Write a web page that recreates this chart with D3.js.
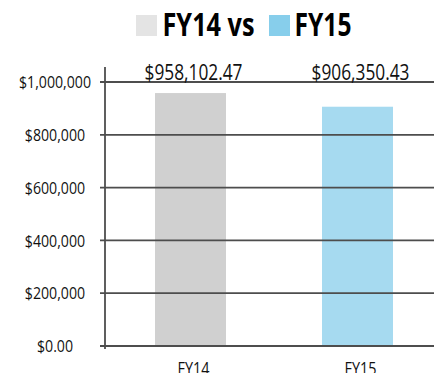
<!DOCTYPE html>
<html>
<head>
<meta charset="utf-8">
<script src="https://cdn.jsdelivr.net/npm/d3@7"></script>
<style>
  html, body { margin: 0; padding: 0; background: #fff; }
  svg { display: block; }
  text { font-family: "Open Sans", "Noto Sans", "DejaVu Sans Condensed", sans-serif; }
</style>
</head>
<body>
<svg id="chart" width="434" height="373"></svg>
<script>
// Fiscal-year totals
const categories = ["FY14", "FY15"];
const values = [958102.47, 906350.43];
const valueLabels = ["$958,102.47", "$906,350.43"];
const tickValues = [0, 200000, 400000, 600000, 800000, 1000000];
const tickLabels = ["$0.00", "$200,000", "$400,000", "$600,000", "$800,000", "$1,000,000"];
const legendLabels = ["FY14 vs", "FY15"];
const barColors = ["#d0d0d0", "#a6daf0"];
const legendColors = ["#e4e4e4", "#87ceeb"];

const svg = d3.select("#chart");

const y = d3.scaleLinear().domain([0, 1000000]).range([346, 82]);
const x = d3.scaleBand().domain(categories).range([107, 441]).paddingInner(0.575).paddingOuter(0.2875);

// Squeeze a text selection horizontally by a fixed ratio (condensed look)
function condense(sel, ratio) {
  sel.each(function () {
    const w = this.getComputedTextLength();
    d3.select(this).attr("textLength", w * ratio).attr("lengthAdjust", "spacingAndGlyphs");
  });
}

function gridLines(g) {
  g.selectAll("line")
    .data(tickValues)
    .join("line")
    .attr("x1", 100).attr("x2", 434)
    .attr("y1", d => y(d)).attr("y2", d => y(d))
    .attr("stroke", "#4d4d4d").attr("stroke-width", 1.8);
}

// Bars
svg.append("g").selectAll("rect")
  .data(values)
  .join("rect")
  .attr("x", (d, i) => x(categories[i]))
  .attr("width", x.bandwidth())
  .attr("y", d => y(d))
  .attr("height", d => y(0) - y(d))
  .attr("fill", (d, i) => barColors[i]);

// Grid lines drawn over the bars
svg.append("g").call(gridLines);

// Y axis line
svg.append("line")
  .attr("x1", 105).attr("x2", 105)
  .attr("y1", 67).attr("y2", 349)
  .attr("stroke", "#4d4d4d").attr("stroke-width", 1.8);

// Y tick labels
const yLabels = svg.append("g").selectAll("text")
  .data(tickValues)
  .join("text")
  .attr("x", 55)
  .attr("y", d => y(d))
  .attr("dy", "0.36em")
  .attr("text-anchor", "middle")
  .attr("font-size", 17)
  .attr("fill", "#111")
  .text((d, i) => tickLabels[i]);
{
  const ref = yLabels.filter((d, i) => i === tickLabels.length - 1).node().getComputedTextLength();
  condense(yLabels, 72 / ref);
}

// X category labels (partly below the bottom edge)
const xLabels = svg.append("g").selectAll("text")
  .data(categories)
  .join("text")
  .attr("x", d => x(d) + x.bandwidth() / 2 + 3)
  .attr("y", 375)
  .attr("text-anchor", "middle")
  .attr("font-size", 18)
  .attr("fill", "#111")
  .text(d => d);
{
  const ref = xLabels.node().getComputedTextLength();
  condense(xLabels, 32 / ref);
}

// Value labels
const vLabels = svg.append("g").selectAll("text")
  .data(valueLabels)
  .join("text")
  .attr("x", (d, i) => x(categories[i]) + x.bandwidth() / 2 + 3)
  .attr("y", 79.5)
  .attr("text-anchor", "middle")
  .attr("font-size", 22)
  .attr("fill", "#111")
  .text(d => d);
{
  const ref = vLabels.node().getComputedTextLength();
  condense(vLabels, 98 / ref);
}

// Title legend
const title = svg.append("g");
const legendX = [136, 269];
const textX = [162.5, 294.5];
const textW = [92, 57];
legendLabels.forEach((lab, i) => {
  title.append("rect")
    .attr("x", legendX[i]).attr("y", 15)
    .attr("width", 21).attr("height", 21)
    .attr("fill", legendColors[i]);
  title.append("text")
    .attr("x", textX[i]).attr("y", 36)
    .attr("font-size", 32).attr("font-weight", "bold")
    .attr("fill", "#000")
    .attr("textLength", textW[i]).attr("lengthAdjust", "spacingAndGlyphs")
    .text(lab);
});
</script>
</body>
</html>
